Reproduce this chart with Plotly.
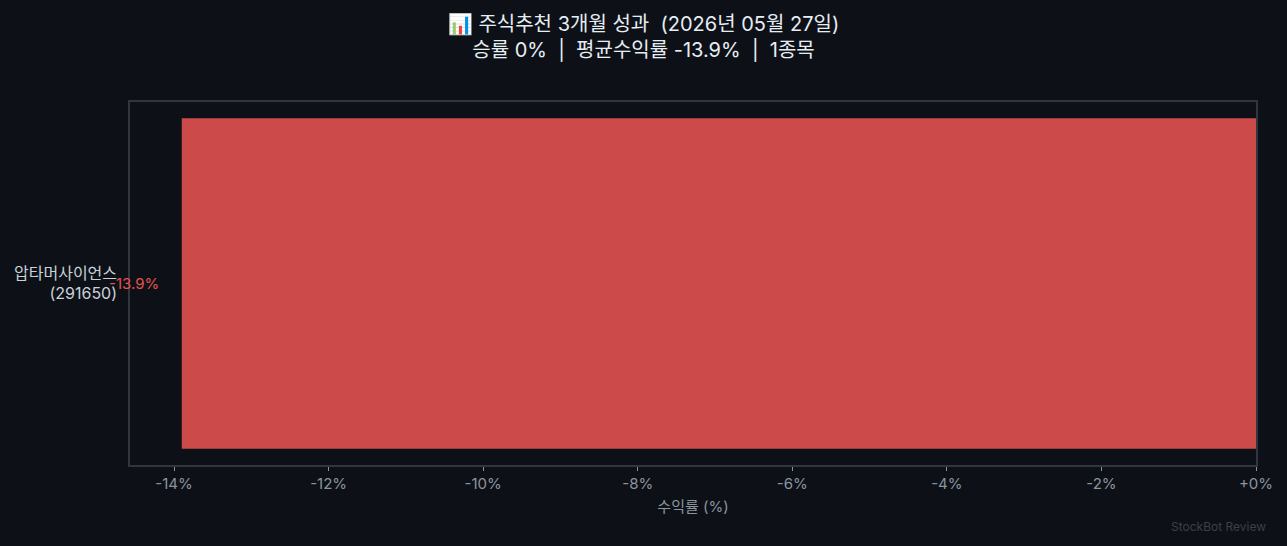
import plotly.graph_objects as go

# Daten
stocks = ["압타머사이언스<br>(291650)"]
returns = [-13.9]
bar_colors = ["#cc4a4a"]

tick_vals = [-14, -12, -10, -8, -6, -4, -2, 0]
tick_text = ["-14%", "-12%", "-10%", "-8%", "-6%", "-4%", "-2%", "+0%"]

sp = "\u00a0\u00a0"
title_line1 = f"📊 주식추천 3개월 성과{sp}(2026년 05월 27일)"
title_line2 = f"승률 0%{sp}|{sp}평균수익률 -13.9%{sp}|{sp}1종목"

BG = "#0d1117"
FONT = "Inter, Noto Sans CJK KR, sans-serif"

fig = go.Figure()

fig.add_trace(go.Bar(
    x=returns,
    y=stocks,
    orientation="h",
    marker=dict(color=bar_colors, line=dict(width=0)),
    hoverinfo="x+y",
))

# Wert links neben dem Balken
for s, r in zip(stocks, returns):
    fig.add_annotation(
        x=r, y=s, text=f"{r:.1f}%",
        xanchor="right", xshift=-21, showarrow=False,
        font=dict(color="#e5534b", size=15),
    )

fig.add_annotation(
    x=1, y=0, xref="paper", yref="paper", xanchor="right", yanchor="middle",
    xshift=12, yshift=-61,
    text="StockBot Review", showarrow=False,
    font=dict(color="#3a4049", size=12),
)

fig.update_layout(
    width=1287, height=546,
    paper_bgcolor=BG,
    plot_bgcolor=BG,
    font=dict(family=FONT, color="#c9d1d9"),
    title=dict(
        text=f"{title_line1}<br>{title_line2}",
        x=0.5, xanchor="center", yref="container", y=0.944, yanchor="middle",
        font=dict(size=20, color="#e6edf3"),
    ),
    margin=dict(l=130, r=31, t=102, b=81),
    bargap=0.09,
    showlegend=False,
)

fig.update_xaxes(
    range=[-14.57, 0],
    tickvals=tick_vals,
    ticktext=tick_text,
    showgrid=False,
    zeroline=False,
    showline=True, mirror=True, linecolor="#30363d", linewidth=1.5,
    ticks="outside", ticklen=4, tickcolor="#8b949e",
    tickfont=dict(color="#8b949e", size=15),
    title=dict(text="수익률 (%)", font=dict(color="#8b949e", size=15), standoff=10),
)
fig.update_yaxes(
    showgrid=False,
    zeroline=False,
    showline=True, mirror=True, linecolor="#30363d", linewidth=1.5,
    ticks="", ticklabelstandoff=8,
    tickfont=dict(color="#c9d1d9", size=16),
)

fig.write_html(
    "out.html",
    config={"displayModeBar": False},
    post_script=f"document.body.style.margin='0';document.body.style.background='{BG}';",
)
